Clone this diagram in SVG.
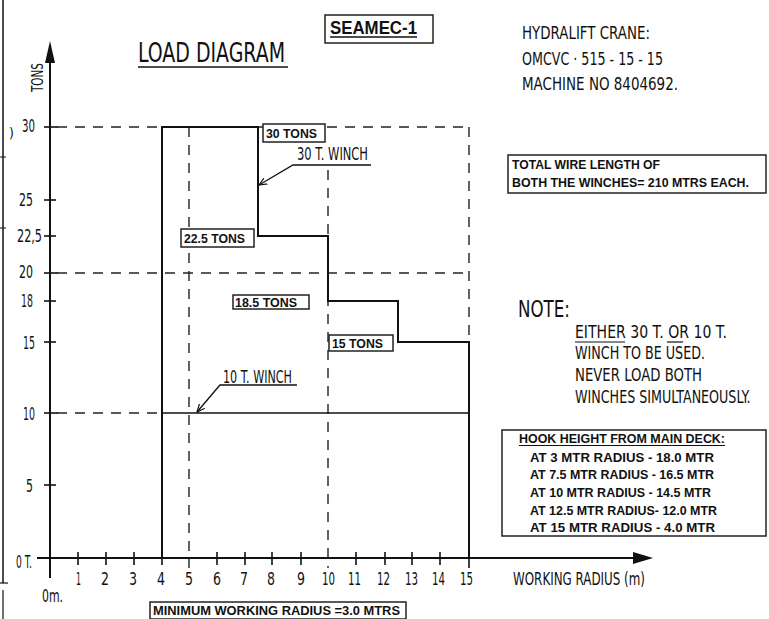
<svg xmlns="http://www.w3.org/2000/svg" width="769" height="619" viewBox="0 0 769 619">
<style>
.st{font-family:"DejaVu Sans Condensed","Liberation Sans Narrow","DejaVu Sans",sans-serif;font-stretch:condensed;fill:#111}
.bd{font-family:"Liberation Sans",Arial,sans-serif;font-weight:bold;fill:#111}
.ln{stroke:#111;fill:none}
.dash{stroke:#222;stroke-width:1.4;stroke-dasharray:10 8;fill:none}
.curve{stroke:#111;stroke-width:2;fill:none}
.box{fill:#fff;stroke:#222;stroke-width:1.5}
.tk{stroke:#111;stroke-width:1.6}
</style>
<defs>
<marker id="lead" markerWidth="9" markerHeight="8" refX="8" refY="4" orient="auto" markerUnits="userSpaceOnUse">
<path d="M0,0.5 L8,4 L0,7.5" fill="none" stroke="#111" stroke-width="1.2"/>
</marker>
</defs>
<rect width="769" height="619" fill="#fff"/>

<g id="page-edge">
<line class="ln" x1="3" y1="0" x2="3" y2="583" stroke-width="1.5"/>
<line class="ln" x1="0" y1="583" x2="8" y2="583" stroke-width="1.2"/>
<line class="ln" x1="3" y1="590" x2="3" y2="619" stroke-width="1.2"/>
<line class="ln" x1="0" y1="157" x2="6" y2="157" stroke-width="1"/>
<line class="ln" x1="0" y1="228" x2="6" y2="228" stroke-width="1"/>
<text class="st" x="9" y="138" font-size="14">)</text>
</g>

<g id="title">
<text class="st" x="138" y="62" font-size="26" textLength="147" lengthAdjust="spacingAndGlyphs">LOAD DIAGRAM</text>
<line class="ln" x1="138" y1="67" x2="288" y2="67" stroke-width="1.5"/>
</g>

<g id="seamec">
<rect class="box" x="325" y="15" width="108" height="28"/>
<text class="bd" x="330" y="34" font-size="18" textLength="87" lengthAdjust="spacingAndGlyphs">SEAMEC-1</text>
<line class="ln" x1="330" y1="37" x2="417" y2="37" stroke-width="1.3"/>
</g>

<g id="crane-info">
<text class="st" x="522" y="39" font-size="17" textLength="128" lengthAdjust="spacingAndGlyphs">HYDRALIFT CRANE:</text>
<text class="st" x="522" y="65" font-size="17" textLength="141" lengthAdjust="spacingAndGlyphs">OMCVC · 515 - 15 - 15</text>
<text class="st" x="522" y="90" font-size="17" textLength="156" lengthAdjust="spacingAndGlyphs">MACHINE NO  8404692.</text>
</g>

<g id="wire-note">
<rect class="box" x="508" y="155" width="258" height="38"/>
<text class="bd" x="512" y="169" font-size="12" textLength="148" lengthAdjust="spacingAndGlyphs">TOTAL WIRE LENGTH OF</text>
<text class="bd" x="512" y="187" font-size="12" textLength="237" lengthAdjust="spacingAndGlyphs">BOTH THE WINCHES= 210 MTRS EACH.</text>
</g>

<g id="note">
<text class="st" x="518" y="317" font-size="23" textLength="52" lengthAdjust="spacingAndGlyphs">NOTE:</text>
<text class="st" x="575" y="338" font-size="18" textLength="152" lengthAdjust="spacingAndGlyphs">EITHER 30 T. OR 10 T.</text>
<line class="ln" x1="575" y1="342" x2="625" y2="342" stroke-width="1.2"/>
<line class="ln" x1="667" y1="342" x2="683" y2="342" stroke-width="1.2"/>
<text class="st" x="575" y="359" font-size="18" textLength="130" lengthAdjust="spacingAndGlyphs">WINCH TO BE USED.</text>
<text class="st" x="575" y="381" font-size="18" textLength="127" lengthAdjust="spacingAndGlyphs">NEVER LOAD BOTH</text>
<text class="st" transform="translate(575 403) scale(0.78 1)" x="0" y="0" font-size="18" textLength="225" lengthAdjust="spacingAndGlyphs">WINCHES SIMULTANEOUSLY.</text>
</g>

<g id="hook-height">
<rect class="box" x="502" y="430" width="264" height="106"/>
<text class="bd" x="519" y="443" font-size="12.5" textLength="206" lengthAdjust="spacingAndGlyphs">HOOK HEIGHT FROM MAIN DECK:</text>
<line class="ln" x1="519" y1="445.5" x2="725" y2="445.5" stroke-width="1.2"/>
<text class="bd" x="530" y="462" font-size="13" textLength="184" lengthAdjust="spacingAndGlyphs">AT 3 MTR RADIUS   -  18.0 MTR</text>
<text class="bd" x="530" y="479" font-size="13" textLength="184" lengthAdjust="spacingAndGlyphs">AT 7.5 MTR RADIUS - 16.5 MTR</text>
<text class="bd" x="530" y="497" font-size="13" textLength="181" lengthAdjust="spacingAndGlyphs">AT 10 MTR RADIUS -  14.5 MTR</text>
<text class="bd" x="530" y="515" font-size="13" textLength="187" lengthAdjust="spacingAndGlyphs">AT 12.5 MTR RADIUS- 12.0 MTR</text>
<text class="bd" x="530" y="532" font-size="13" textLength="185" lengthAdjust="spacingAndGlyphs">AT 15 MTR RADIUS -    4.0 MTR</text>
</g>

<g id="min-radius">
<rect class="box" x="150" y="602" width="256" height="17"/>
<text class="bd" x="153" y="615" font-size="12.5" textLength="247" lengthAdjust="spacingAndGlyphs">MINIMUM WORKING RADIUS =3.0 MTRS</text>
</g>

<g id="grid">
<line class="dash" x1="57" y1="127" x2="469" y2="127"/>
<line class="dash" x1="57" y1="273" x2="469" y2="273"/>
<line class="dash" x1="57" y1="413" x2="162" y2="413"/>
<line class="dash" x1="469" y1="127" x2="469" y2="342"/>
<line class="dash" x1="189" y1="127" x2="189" y2="568"/>
<line class="dash" x1="328" y1="170" x2="328" y2="568"/>
</g>

<g id="axes">
<line class="ln" x1="50" y1="578" x2="50" y2="58" stroke-width="2"/>
<polygon points="50,41 45,63 55,63" fill="#111"/>
<line class="ln" x1="37" y1="558" x2="638" y2="558" stroke-width="2"/>
<polygon points="653,558 633,552 633,564" fill="#111"/>
<g class="tk">
<line x1="44" y1="127" x2="58" y2="127"/>
<line x1="44" y1="200" x2="56" y2="200"/>
<line x1="44" y1="236" x2="56" y2="236"/>
<line x1="44" y1="273" x2="58" y2="273"/>
<line x1="44" y1="301" x2="56" y2="301"/>
<line x1="44" y1="342" x2="56" y2="342"/>
<line x1="44" y1="413" x2="58" y2="413"/>
<line x1="44" y1="485" x2="56" y2="485"/>
<line x1="78" y1="552" x2="78" y2="565"/>
<line x1="106" y1="552" x2="106" y2="565"/>
<line x1="134" y1="552" x2="134" y2="565"/>
<line x1="162" y1="552" x2="162" y2="565"/>
<line x1="217" y1="552" x2="217" y2="565"/>
<line x1="245" y1="552" x2="245" y2="565"/>
<line x1="272" y1="552" x2="272" y2="565"/>
<line x1="301" y1="552" x2="301" y2="565"/>
<line x1="356" y1="552" x2="356" y2="565"/>
<line x1="385" y1="552" x2="385" y2="565"/>
<line x1="412" y1="552" x2="412" y2="565"/>
<line x1="440" y1="552" x2="440" y2="565"/>
<line x1="469" y1="552" x2="469" y2="568"/>
</g>
<text class="st" x="43" y="92" font-size="15" textLength="29" lengthAdjust="spacingAndGlyphs" transform="rotate(-90 43 92)">TONS</text>
<g font-size="18">
<text class="st" x="22" y="132" textLength="13" lengthAdjust="spacingAndGlyphs">30</text>
<text class="st" x="19" y="206" textLength="14" lengthAdjust="spacingAndGlyphs">25</text>
<text class="st" x="17" y="242" textLength="25" lengthAdjust="spacingAndGlyphs">22,5</text>
<text class="st" x="19" y="278" textLength="14" lengthAdjust="spacingAndGlyphs">20</text>
<text class="st" x="21" y="307" textLength="12" lengthAdjust="spacingAndGlyphs">18</text>
<text class="st" x="23" y="349" textLength="12" lengthAdjust="spacingAndGlyphs">15</text>
<text class="st" x="23" y="420" textLength="12" lengthAdjust="spacingAndGlyphs">10</text>
<text class="st" x="26" y="492" textLength="7" lengthAdjust="spacingAndGlyphs">5</text>
<text class="st" x="16" y="568" textLength="16" lengthAdjust="spacingAndGlyphs">0 T.</text>
<text class="st" x="42" y="602" textLength="21" lengthAdjust="spacingAndGlyphs">0m.</text>
</g>
<g font-size="18">
<text class="st" x="76" y="585" textLength="5" lengthAdjust="spacingAndGlyphs">1</text>
<text class="st" x="101" y="585" textLength="8" lengthAdjust="spacingAndGlyphs">2</text>
<text class="st" x="129" y="585" textLength="8" lengthAdjust="spacingAndGlyphs">3</text>
<text class="st" x="157" y="585" textLength="8" lengthAdjust="spacingAndGlyphs">4</text>
<text class="st" x="185" y="585" textLength="8" lengthAdjust="spacingAndGlyphs">5</text>
<text class="st" x="213" y="585" textLength="8" lengthAdjust="spacingAndGlyphs">6</text>
<text class="st" x="240" y="585" textLength="8" lengthAdjust="spacingAndGlyphs">7</text>
<text class="st" x="267" y="585" textLength="8" lengthAdjust="spacingAndGlyphs">8</text>
<text class="st" x="297" y="585" textLength="8" lengthAdjust="spacingAndGlyphs">9</text>
<text class="st" x="322" y="585" textLength="13" lengthAdjust="spacingAndGlyphs">10</text>
<text class="st" x="348" y="585" textLength="13" lengthAdjust="spacingAndGlyphs">11</text>
<text class="st" x="377" y="585" textLength="13" lengthAdjust="spacingAndGlyphs">12</text>
<text class="st" x="405" y="585" textLength="13" lengthAdjust="spacingAndGlyphs">13</text>
<text class="st" x="432" y="585" textLength="13" lengthAdjust="spacingAndGlyphs">14</text>
<text class="st" x="460" y="585" textLength="13" lengthAdjust="spacingAndGlyphs">15</text>
</g>
<text class="st" x="513" y="585" font-size="18" textLength="132" lengthAdjust="spacingAndGlyphs">WORKING RADIUS (m)</text>
</g>

<g id="load-curve">
<polyline class="curve" points="162,558 162,127 258,127 258,236 328,236 328,301 398,301 398,342 469,342 469,558"/>
<line class="ln" x1="162" y1="413" x2="469" y2="413" stroke-width="1.5"/>
</g>

<g id="label-30t">
<rect class="box" x="263" y="124" width="62" height="18"/>
<text class="bd" x="266" y="138" font-size="12.5" textLength="51" lengthAdjust="spacingAndGlyphs">30 TONS</text>
</g>
<g id="label-22-5t">
<rect class="box" x="181" y="229" width="73" height="18"/>
<text class="bd" x="184" y="243" font-size="12.5" textLength="61" lengthAdjust="spacingAndGlyphs">22.5 TONS</text>
</g>
<g id="label-18-5t">
<rect class="box" x="233" y="295" width="76" height="14"/>
<text class="bd" x="235" y="307" font-size="12.5" textLength="62" lengthAdjust="spacingAndGlyphs">18.5 TONS</text>
</g>
<g id="label-15t">
<rect class="box" x="329" y="335" width="64" height="16"/>
<text class="bd" x="332" y="348" font-size="12.5" textLength="51" lengthAdjust="spacingAndGlyphs">15 TONS</text>
</g>

<g id="label-30t-winch">
<text class="st" x="297" y="160" font-size="18" textLength="71" lengthAdjust="spacingAndGlyphs">30 T. WINCH</text>
</g>
<g id="label-10t-winch">
<text class="st" x="223" y="383" font-size="18" textLength="69" lengthAdjust="spacingAndGlyphs">10 T. WINCH</text>
</g>

<g id="connectors">
<polyline class="ln" stroke-width="1.3" points="371,165 293,165 259,185" marker-end="url(#lead)"/>
<polyline class="ln" stroke-width="1.3" points="297,385 220,385 197,412" marker-end="url(#lead)"/>
</g>
</svg>
